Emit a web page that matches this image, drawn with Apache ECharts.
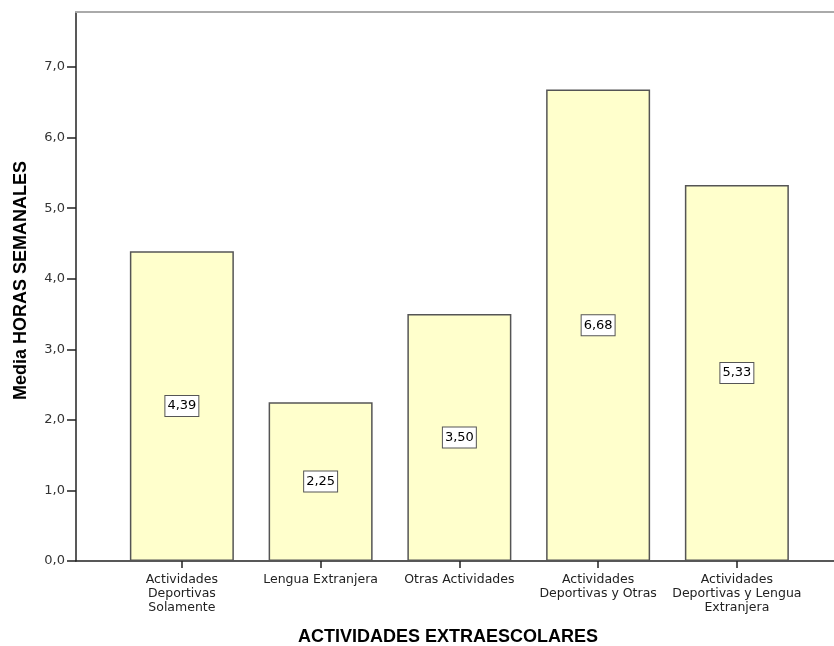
<!DOCTYPE html>
<html>
<head>
<meta charset="utf-8">
<script src="https://cdn.jsdelivr.net/npm/echarts@6/dist/echarts.min.js"></script>
<style>
  html, body { margin: 0; padding: 0; background: #fff; }
  #main { width: 834px; height: 646px; }
</style>
</head>
<body>
<div id="main"></div>
<script>
// categorias (eje X)
const categorias = [
  'Actividades\nDeportivas\nSolamente',
  'Lengua Extranjera',
  'Otras Actividades',
  'Actividades\nDeportivas y Otras',
  'Actividades\nDeportivas y Lengua\nExtranjera'
];
// media de horas semanales
const medias = [4.39, 2.25, 3.50, 6.68, 5.33];
// posiciones de las categorias en el eje
const posiciones = [1, 2, 3, 4, 5];
// marcas del eje Y
const marcasY = [0, 1, 2, 3, 4, 5, 6, 7];

let chart = echarts.init(document.getElementById('main'), null, { renderer: 'canvas' });

const fuente = 'Liberation Sans, Arial, sans-serif';
const fuenteEtiq = 'DejaVu Sans, Verdana, sans-serif';
const coma = v => v.toFixed(1).replace('.', ',');

chart.setOption({
  backgroundColor: '#ffffff',
  animation: false,
  grid: { left: 76, right: 0, top: 12, bottom: 85, containLabel: false, outerBoundsMode: 'none' },
  xAxis: [{
    type: 'value',
    min: 0.237,
    max: 5.70,
    name: 'ACTIVIDADES EXTRAESCOLARES',
    nameLocation: 'middle',
    nameGap: 67,
    nameMoveOverlap: false,
    nameTextStyle: { fontFamily: fuente, fontSize: 18, fontWeight: 'bold', color: '#000', padding: [0, 14, 0, 0] },
    splitLine: { show: false },
    axisLine: { show: true, onZero: false, lineStyle: { color: '#222', width: 1.5 } },
    axisTick: { show: true, length: 7, customValues: posiciones, lineStyle: { color: '#222', width: 1.5 } },
    axisLabel: {
      customValues: posiciones,
      fontFamily: fuenteEtiq, fontSize: 12.5, color: '#222', lineHeight: 14, margin: 12,
      formatter: v => categorias[Math.round(v) - 1] || ''
    }
  }, {
    type: 'value',
    position: 'top',
    min: 0.237,
    max: 5.70,
    splitLine: { show: false },
    axisLine: { show: true, onZero: false, lineStyle: { color: '#aaaaaa', width: 2 } },
    axisTick: { show: false },
    axisLabel: { show: false }
  }],
  yAxis: {
    type: 'value',
    min: 0,
    max: 7.78,
    interval: 1,
    name: 'Media HORAS SEMANALES',
    nameLocation: 'middle',
    nameGap: 46,
    nameMoveOverlap: false,
    nameTextStyle: { fontFamily: fuente, fontSize: 18, fontWeight: 'bold', color: '#000', padding: [0, 0, 0, 12] },
    splitLine: { show: false },
    axisLine: { show: true, onZero: false, lineStyle: { color: '#222', width: 1.5 } },
    axisTick: { show: true, length: 9, customValues: marcasY, lineStyle: { color: '#222', width: 1.5 } },
    axisLabel: {
      customValues: marcasY,
      fontFamily: fuenteEtiq, fontSize: 13, color: '#333', margin: 11,
      formatter: v => coma(v)
    }
  },
  series: [{
    type: 'bar',
    barWidth: 104,
    data: medias.map((v, i) => [posiciones[i], v]),
    itemStyle: { color: '#ffffcc', borderColor: '#555555', borderWidth: 1.5 },
    label: {
      show: true,
      position: 'inside',
      fontFamily: fuenteEtiq, fontSize: 13, color: '#000',
      backgroundColor: '#ffffff',
      borderColor: '#555555', borderWidth: 1,
      padding: [4, 2, 3, 2],
      formatter: p => p.value[1].toFixed(2).replace('.', ',')
    }
  }]
});
</script>
</body>
</html>
